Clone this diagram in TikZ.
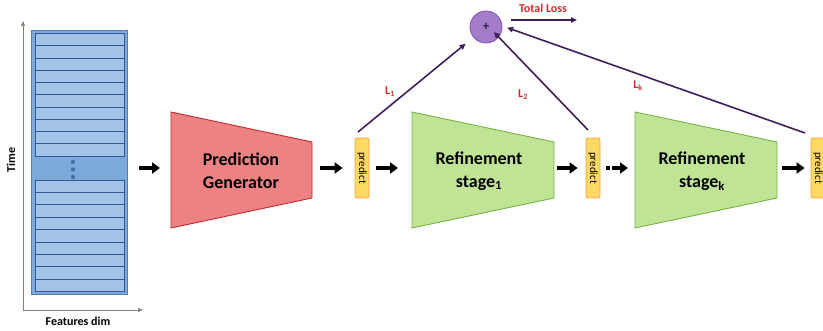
\documentclass[tikz,border=0pt]{standalone}
\usepackage{fontspec}
\setmainfont{Carlito}
\usetikzlibrary{arrows.meta,positioning}

\definecolor{genfill}{HTML}{EC8282}
\definecolor{gendraw}{HTML}{C8282C}
\definecolor{reffill}{HTML}{BFE496}
\definecolor{refdraw}{HTML}{74B446}
\definecolor{predfill}{HTML}{FFD966}
\definecolor{preddraw}{HTML}{F2A33A}
\definecolor{featouter}{HTML}{7BA9D9}
\definecolor{featrow}{HTML}{A2C2E6}
\definecolor{featdraw}{HTML}{34579A}
\definecolor{plusfill}{HTML}{A47DC9}
\definecolor{plusdraw}{HTML}{8350B3}
\definecolor{lossline}{HTML}{3E1F5C}
\definecolor{losstext}{HTML}{D42A2A}

\tikzset{
  bigarrow/.style={line width=3.4pt, -{Triangle[length=8pt,width=11pt]}},
  lossarrow/.style={lossline, line width=1.6pt, -{Triangle[length=6pt,width=5.5pt]}},
  predbox/.style={draw=preddraw, fill=predfill, line width=0.8pt, rounded corners=2pt,
    rotate=-90, minimum width=60pt, minimum height=14pt, inner sep=0pt,
    font=\fontsize{11}{11}\selectfont},
  stagetext/.style={font=\fontsize{18}{23}\selectfont\bfseries, align=center},
  losslabel/.style={text=losstext, font=\fontsize{12}{12}\selectfont\bfseries},
  axislabel/.style={font=\fontsize{12}{12}\selectfont\bfseries},
  rowbox/.style={draw=featdraw, fill=featrow, line width=0.8pt}
}

\begin{document}
\begin{tikzpicture}[x=1pt,y=-1pt]
\useasboundingbox (0,0) rectangle (823,331);

% input features
\draw[gray, line width=0.6pt, -{Triangle[length=5pt,width=4pt]}] (23,310) -- (23,21);
\draw[gray, line width=0.6pt, -{Triangle[length=5pt,width=4pt]}] (23,310) -- (143,310);
\node[rotate=90, axislabel] (timelbl) at (11,160) {Time};
\node[axislabel] (featlbl) at (78,321) {Features dim};

\filldraw[draw=featdraw!80, fill=featouter, line width=1pt] (31,31) rectangle (127,295);
\foreach \i in {0,...,9}
  \filldraw[rowbox] (35,{33.5+\i*12.25}) rectangle (124,{33.5+(\i+1)*12.25});
\foreach \i in {0,...,8}
  \filldraw[rowbox] (35,{180+\i*12.4}) rectangle (124,{180+(\i+1)*12.4});
\foreach \y in {162,169.5,177}
  \fill[featdraw!70!featouter] (73,\y) circle (2.2);
\coordinate (featR) at (127,168);

% prediction generator
\filldraw[draw=gendraw, fill=genfill, line width=0.9pt]
  (171,112) -- (312,142) -- (312,198) -- (171,228) -- cycle;
\node[stagetext] (gen) at (241,171) {Prediction\\Generator};
\coordinate (genL) at (171,168);
\coordinate (genR) at (312,168);

\node[predbox] (p1) at (362,168) {predict};

% refinement stage 1
\filldraw[draw=refdraw, fill=reffill, line width=0.9pt]
  (412,112) -- (554,142) -- (554,198) -- (412,228) -- cycle;
\node[stagetext] (ref1) at (479,171) {Refinement\\stage\textsubscript{1}};
\coordinate (ref1L) at (412,168);
\coordinate (ref1R) at (554,168);

\node[predbox] (p2) at (593,168) {predict};

% refinement stage k
\filldraw[draw=refdraw, fill=reffill, line width=0.9pt]
  (635,112) -- (777,142) -- (777,198) -- (635,228) -- cycle;
\node[stagetext] (refk) at (702,171) {Refinement\\stage\textsubscript{k}};
\coordinate (refkL) at (635,168);
\coordinate (refkR) at (777,168);

\node[predbox] (p3) at (818,168) {predict};

% main flow
\draw[bigarrow, shorten <=12pt, shorten >=11pt] (featR) -- (genL);
\draw[bigarrow, shorten <=8pt, shorten >=12pt] (genR) -- (p1);
\draw[bigarrow, shorten <=7pt, shorten >=14pt] (p1) -- (ref1L);
\draw[bigarrow, shorten <=3pt, shorten >=8pt] (ref1R) -- (p2);
\fill ([xshift=6pt]p2.north) ++(0,-1.7) rectangle ++(3.4,3.4);
\draw[bigarrow, shorten <=12pt, shorten >=7pt] (p2) -- (refkL);
\draw[bigarrow, shorten <=5pt, shorten >=6pt] (refkR) -- (p3);

% losses
\node[circle, draw=plusdraw, fill=plusfill, line width=0.8pt, minimum size=32pt,
  inner sep=0pt, font=\fontsize{13}{13}\selectfont] (plus) at (486,27) {+};
\coordinate (p1top) at (358,132);
\coordinate (p2top) at (588,130);
\coordinate (p3top) at (805,133);
\draw[lossarrow, shorten >=10pt] (p1top) -- (plus);
\draw[lossarrow, shorten >=7pt] (p2top) -- ([xshift=3pt]plus.center);
\draw[lossarrow, shorten >=5pt] (p3top) -- ([yshift=1pt]plus.east);
\coordinate (lossend) at (577,20);
\draw[lossarrow] ([xshift=9pt,yshift=7pt]plus.east) -- (lossend);
\node[losslabel] (total) at (543,8) {Total Loss};
\node[losslabel] (l1) at (390,92) {L\textsubscript{1}};
\node[losslabel] (l2) at (523,95) {L\textsubscript{2}};
\node[losslabel] (lk) at (638,86) {L\textsubscript{k}};
\end{tikzpicture}
\end{document}
